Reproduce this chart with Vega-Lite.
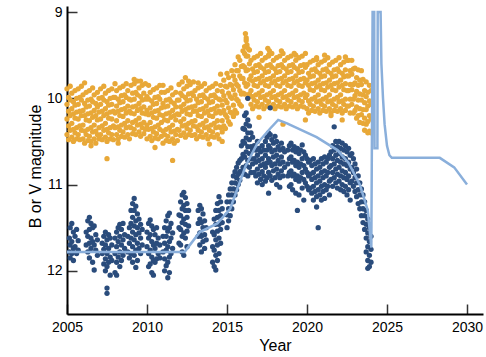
{
"$schema":"https://vega.github.io/schema/vega-lite/v6.json",
"autosize":"none",
"width":416,"height":308,
"padding":{"left":67,"top":6,"right":3,"bottom":43},
"background":"white",
"config":{"view":{"stroke":null},"font":"Liberation Sans"},
"datasets":{
"V":[
{"t":2005.0,"m":9.89},{"t":2005.0,"m":10.07},{"t":2005.0,"m":10.24},{"t":2005.0,"m":10.42},
{"t":2005.1,"m":9.99},{"t":2005.1,"m":10.15},{"t":2005.1,"m":10.32},{"t":2005.1,"m":10.48},
{"t":2005.2,"m":9.86},{"t":2005.2,"m":10.02},{"t":2005.2,"m":10.2},{"t":2005.2,"m":10.37},
{"t":2005.3,"m":9.94},{"t":2005.3,"m":10.12},{"t":2005.3,"m":10.29},{"t":2005.3,"m":10.45},
{"t":2005.4,"m":10.04},{"t":2005.4,"m":10.18},{"t":2005.4,"m":10.36},{"t":2005.4,"m":10.5},
{"t":2005.5,"m":9.91},{"t":2005.5,"m":10.08},{"t":2005.5,"m":10.23},{"t":2005.5,"m":10.4},
{"t":2005.6,"m":10.0},{"t":2005.6,"m":10.16},{"t":2005.6,"m":10.34},{"t":2005.6,"m":10.47},
{"t":2005.7,"m":9.89},{"t":2005.7,"m":10.07},{"t":2005.7,"m":10.24},{"t":2005.7,"m":10.42},
{"t":2005.8,"m":9.99},{"t":2005.8,"m":10.15},{"t":2005.8,"m":10.32},{"t":2005.8,"m":10.48},
{"t":2005.9,"m":9.86},{"t":2005.9,"m":10.02},{"t":2005.9,"m":10.2},{"t":2005.9,"m":10.37},
{"t":2006.0,"m":9.96},{"t":2006.0,"m":10.14},{"t":2006.0,"m":10.31},{"t":2006.0,"m":10.47},
{"t":2006.1,"m":10.06},{"t":2006.1,"m":10.2},{"t":2006.1,"m":10.38},{"t":2006.1,"m":10.52},
{"t":2006.2,"m":9.93},{"t":2006.2,"m":10.1},{"t":2006.2,"m":10.25},{"t":2006.2,"m":10.42},
{"t":2006.3,"m":10.02},{"t":2006.3,"m":10.18},{"t":2006.3,"m":10.36},{"t":2006.3,"m":10.49},
{"t":2006.4,"m":9.91},{"t":2006.4,"m":10.09},{"t":2006.4,"m":10.26},{"t":2006.4,"m":10.44},
{"t":2006.5,"m":10.01},{"t":2006.5,"m":10.17},{"t":2006.5,"m":10.34},{"t":2006.5,"m":10.5},
{"t":2006.6,"m":9.88},{"t":2006.6,"m":10.04},{"t":2006.6,"m":10.22},{"t":2006.6,"m":10.39},
{"t":2006.7,"m":9.96},{"t":2006.7,"m":10.14},{"t":2006.7,"m":10.31},{"t":2006.7,"m":10.47},
{"t":2006.8,"m":10.06},{"t":2006.8,"m":10.2},{"t":2006.8,"m":10.38},{"t":2006.8,"m":10.52},
{"t":2006.9,"m":9.93},{"t":2006.9,"m":10.1},{"t":2006.9,"m":10.25},{"t":2006.9,"m":10.42},
{"t":2007.0,"m":10.0},{"t":2007.0,"m":10.16},{"t":2007.0,"m":10.34},{"t":2007.0,"m":10.47},
{"t":2007.1,"m":9.89},{"t":2007.1,"m":10.07},{"t":2007.1,"m":10.24},{"t":2007.1,"m":10.42},
{"t":2007.2,"m":9.99},{"t":2007.2,"m":10.15},{"t":2007.2,"m":10.32},{"t":2007.2,"m":10.48},
{"t":2007.3,"m":9.86},{"t":2007.3,"m":10.02},{"t":2007.3,"m":10.2},{"t":2007.3,"m":10.37},
{"t":2007.4,"m":9.94},{"t":2007.4,"m":10.12},{"t":2007.4,"m":10.29},{"t":2007.4,"m":10.45},
{"t":2007.5,"m":10.04},{"t":2007.5,"m":10.18},{"t":2007.5,"m":10.36},{"t":2007.5,"m":10.5},
{"t":2007.6,"m":9.91},{"t":2007.6,"m":10.08},{"t":2007.6,"m":10.23},{"t":2007.6,"m":10.4},
{"t":2007.7,"m":10.0},{"t":2007.7,"m":10.16},{"t":2007.7,"m":10.34},{"t":2007.7,"m":10.47},
{"t":2007.8,"m":9.89},{"t":2007.8,"m":10.07},{"t":2007.8,"m":10.24},{"t":2007.8,"m":10.42},
{"t":2007.9,"m":9.99},{"t":2007.9,"m":10.15},{"t":2007.9,"m":10.32},{"t":2007.9,"m":10.48},
{"t":2008.0,"m":9.83},{"t":2008.0,"m":9.99},{"t":2008.0,"m":10.17},{"t":2008.0,"m":10.34},
{"t":2008.1,"m":9.91},{"t":2008.1,"m":10.09},{"t":2008.1,"m":10.26},{"t":2008.1,"m":10.42},
{"t":2008.2,"m":10.01},{"t":2008.2,"m":10.15},{"t":2008.2,"m":10.33},{"t":2008.2,"m":10.47},
{"t":2008.3,"m":9.88},{"t":2008.3,"m":10.05},{"t":2008.3,"m":10.2},{"t":2008.3,"m":10.37},
{"t":2008.4,"m":9.97},{"t":2008.4,"m":10.13},{"t":2008.4,"m":10.31},{"t":2008.4,"m":10.44},
{"t":2008.5,"m":9.86},{"t":2008.5,"m":10.04},{"t":2008.5,"m":10.21},{"t":2008.5,"m":10.39},
{"t":2008.6,"m":9.96},{"t":2008.6,"m":10.12},{"t":2008.6,"m":10.29},{"t":2008.6,"m":10.45},
{"t":2008.7,"m":9.83},{"t":2008.7,"m":9.99},{"t":2008.7,"m":10.17},{"t":2008.7,"m":10.34},
{"t":2008.8,"m":9.91},{"t":2008.8,"m":10.09},{"t":2008.8,"m":10.26},{"t":2008.8,"m":10.42},
{"t":2008.9,"m":10.01},{"t":2008.9,"m":10.15},{"t":2008.9,"m":10.33},{"t":2008.9,"m":10.47},
{"t":2009.0,"m":9.85},{"t":2009.0,"m":10.02},{"t":2009.0,"m":10.17},{"t":2009.0,"m":10.34},
{"t":2009.1,"m":9.94},{"t":2009.1,"m":10.1},{"t":2009.1,"m":10.28},{"t":2009.1,"m":10.41},
{"t":2009.2,"m":9.83},{"t":2009.2,"m":10.01},{"t":2009.2,"m":10.18},{"t":2009.2,"m":10.36},
{"t":2009.3,"m":9.93},{"t":2009.3,"m":10.09},{"t":2009.3,"m":10.26},{"t":2009.3,"m":10.42},
{"t":2009.4,"m":9.8},{"t":2009.4,"m":9.96},{"t":2009.4,"m":10.14},{"t":2009.4,"m":10.31},
{"t":2009.5,"m":9.88},{"t":2009.5,"m":10.06},{"t":2009.5,"m":10.23},{"t":2009.5,"m":10.39},
{"t":2009.6,"m":9.98},{"t":2009.6,"m":10.12},{"t":2009.6,"m":10.3},{"t":2009.6,"m":10.44},
{"t":2009.7,"m":9.85},{"t":2009.7,"m":10.02},{"t":2009.7,"m":10.17},{"t":2009.7,"m":10.34},
{"t":2009.8,"m":9.94},{"t":2009.8,"m":10.1},{"t":2009.8,"m":10.28},{"t":2009.8,"m":10.41},
{"t":2009.9,"m":9.83},{"t":2009.9,"m":10.01},{"t":2009.9,"m":10.18},{"t":2009.9,"m":10.36},
{"t":2010.0,"m":9.98},{"t":2010.0,"m":10.14},{"t":2010.0,"m":10.31},{"t":2010.0,"m":10.47},
{"t":2010.1,"m":9.85},{"t":2010.1,"m":10.01},{"t":2010.1,"m":10.19},{"t":2010.1,"m":10.36},
{"t":2010.2,"m":9.93},{"t":2010.2,"m":10.11},{"t":2010.2,"m":10.28},{"t":2010.2,"m":10.44},
{"t":2010.3,"m":10.03},{"t":2010.3,"m":10.17},{"t":2010.3,"m":10.35},{"t":2010.3,"m":10.49},
{"t":2010.4,"m":9.9},{"t":2010.4,"m":10.07},{"t":2010.4,"m":10.22},{"t":2010.4,"m":10.39},
{"t":2010.5,"m":9.99},{"t":2010.5,"m":10.15},{"t":2010.5,"m":10.33},{"t":2010.5,"m":10.46},
{"t":2010.6,"m":9.88},{"t":2010.6,"m":10.06},{"t":2010.6,"m":10.23},{"t":2010.6,"m":10.41},
{"t":2010.7,"m":9.98},{"t":2010.7,"m":10.14},{"t":2010.7,"m":10.31},{"t":2010.7,"m":10.47},
{"t":2010.8,"m":9.85},{"t":2010.8,"m":10.01},{"t":2010.8,"m":10.19},{"t":2010.8,"m":10.36},
{"t":2010.9,"m":9.93},{"t":2010.9,"m":10.11},{"t":2010.9,"m":10.28},{"t":2010.9,"m":10.44},
{"t":2011.0,"m":10.06},{"t":2011.0,"m":10.2},{"t":2011.0,"m":10.38},{"t":2011.0,"m":10.52},
{"t":2011.1,"m":9.93},{"t":2011.1,"m":10.1},{"t":2011.1,"m":10.25},{"t":2011.1,"m":10.42},
{"t":2011.2,"m":10.02},{"t":2011.2,"m":10.18},{"t":2011.2,"m":10.36},{"t":2011.2,"m":10.49},
{"t":2011.3,"m":9.91},{"t":2011.3,"m":10.09},{"t":2011.3,"m":10.26},{"t":2011.3,"m":10.44},
{"t":2011.4,"m":10.01},{"t":2011.4,"m":10.17},{"t":2011.4,"m":10.34},{"t":2011.4,"m":10.5},
{"t":2011.5,"m":9.88},{"t":2011.5,"m":10.04},{"t":2011.5,"m":10.22},{"t":2011.5,"m":10.39},
{"t":2011.6,"m":9.96},{"t":2011.6,"m":10.14},{"t":2011.6,"m":10.31},{"t":2011.6,"m":10.47},
{"t":2011.7,"m":10.06},{"t":2011.7,"m":10.2},{"t":2011.7,"m":10.38},{"t":2011.7,"m":10.52},
{"t":2011.8,"m":9.93},{"t":2011.8,"m":10.1},{"t":2011.8,"m":10.25},{"t":2011.8,"m":10.42},
{"t":2011.9,"m":10.02},{"t":2011.9,"m":10.18},{"t":2011.9,"m":10.36},{"t":2011.9,"m":10.49},
{"t":2012.0,"m":9.84},{"t":2012.0,"m":10.02},{"t":2012.0,"m":10.19},{"t":2012.0,"m":10.37},
{"t":2012.1,"m":9.94},{"t":2012.1,"m":10.1},{"t":2012.1,"m":10.27},{"t":2012.1,"m":10.43},
{"t":2012.2,"m":9.81},{"t":2012.2,"m":9.97},{"t":2012.2,"m":10.15},{"t":2012.2,"m":10.32},
{"t":2012.3,"m":9.89},{"t":2012.3,"m":10.07},{"t":2012.3,"m":10.24},{"t":2012.3,"m":10.4},
{"t":2012.4,"m":9.99},{"t":2012.4,"m":10.13},{"t":2012.4,"m":10.31},{"t":2012.4,"m":10.45},
{"t":2012.5,"m":9.86},{"t":2012.5,"m":10.03},{"t":2012.5,"m":10.18},{"t":2012.5,"m":10.35},
{"t":2012.6,"m":9.95},{"t":2012.6,"m":10.11},{"t":2012.6,"m":10.29},{"t":2012.6,"m":10.42},
{"t":2012.7,"m":9.84},{"t":2012.7,"m":10.02},{"t":2012.7,"m":10.19},{"t":2012.7,"m":10.37},
{"t":2012.8,"m":9.94},{"t":2012.8,"m":10.1},{"t":2012.8,"m":10.27},{"t":2012.8,"m":10.43},
{"t":2012.9,"m":9.81},{"t":2012.9,"m":9.97},{"t":2012.9,"m":10.15},{"t":2012.9,"m":10.32},
{"t":2013.0,"m":9.91},{"t":2013.0,"m":10.09},{"t":2013.0,"m":10.26},{"t":2013.0,"m":10.42},
{"t":2013.1,"m":10.01},{"t":2013.1,"m":10.15},{"t":2013.1,"m":10.33},{"t":2013.1,"m":10.47},
{"t":2013.2,"m":9.88},{"t":2013.2,"m":10.05},{"t":2013.2,"m":10.2},{"t":2013.2,"m":10.37},
{"t":2013.3,"m":9.97},{"t":2013.3,"m":10.13},{"t":2013.3,"m":10.31},{"t":2013.3,"m":10.44},
{"t":2013.4,"m":9.86},{"t":2013.4,"m":10.04},{"t":2013.4,"m":10.21},{"t":2013.4,"m":10.39},
{"t":2013.5,"m":9.96},{"t":2013.5,"m":10.12},{"t":2013.5,"m":10.29},{"t":2013.5,"m":10.45},
{"t":2013.6,"m":9.83},{"t":2013.6,"m":9.99},{"t":2013.6,"m":10.17},{"t":2013.6,"m":10.34},
{"t":2013.7,"m":9.91},{"t":2013.7,"m":10.09},{"t":2013.7,"m":10.26},{"t":2013.7,"m":10.42},
{"t":2013.8,"m":10.01},{"t":2013.8,"m":10.15},{"t":2013.8,"m":10.33},{"t":2013.8,"m":10.47},
{"t":2013.9,"m":9.88},{"t":2013.9,"m":10.05},{"t":2013.9,"m":10.2},{"t":2013.9,"m":10.37},
{"t":2014.0,"m":9.97},{"t":2014.0,"m":10.13},{"t":2014.0,"m":10.31},{"t":2014.0,"m":10.44},
{"t":2014.1,"m":9.86},{"t":2014.1,"m":10.04},{"t":2014.1,"m":10.21},{"t":2014.1,"m":10.39},
{"t":2014.2,"m":9.96},{"t":2014.2,"m":10.12},{"t":2014.2,"m":10.29},{"t":2014.2,"m":10.45},
{"t":2014.3,"m":9.83},{"t":2014.3,"m":9.99},{"t":2014.3,"m":10.17},{"t":2014.3,"m":10.34},
{"t":2014.4,"m":9.91},{"t":2014.4,"m":10.09},{"t":2014.4,"m":10.26},{"t":2014.4,"m":10.42},
{"t":2014.5,"m":10.01},{"t":2014.5,"m":10.15},{"t":2014.5,"m":10.33},{"t":2014.5,"m":10.47},
{"t":2014.6,"m":9.85},{"t":2014.6,"m":10.02},{"t":2014.6,"m":10.17},{"t":2014.6,"m":10.34},
{"t":2014.7,"m":9.92},{"t":2014.7,"m":10.08},{"t":2014.7,"m":10.26},{"t":2014.7,"m":10.39},
{"t":2014.8,"m":9.79},{"t":2014.8,"m":9.97},{"t":2014.8,"m":10.14},{"t":2014.8,"m":10.32},
{"t":2014.9,"m":9.86},{"t":2014.9,"m":10.02},{"t":2014.9,"m":10.19},{"t":2014.9,"m":10.35},
{"t":2015.0,"m":9.71},{"t":2015.0,"m":9.87},{"t":2015.0,"m":10.05},{"t":2015.0,"m":10.22},
{"t":2015.1,"m":9.76},{"t":2015.1,"m":9.94},{"t":2015.1,"m":10.11},{"t":2015.1,"m":10.27},
{"t":2015.2,"m":9.84},{"t":2015.2,"m":9.98},{"t":2015.2,"m":10.16},{"t":2015.2,"m":10.3},
{"t":2015.3,"m":9.68},{"t":2015.3,"m":9.85},{"t":2015.3,"m":10.0},{"t":2015.3,"m":10.17},
{"t":2015.4,"m":9.74},{"t":2015.4,"m":9.9},{"t":2015.4,"m":10.08},{"t":2015.4,"m":10.21},
{"t":2015.5,"m":9.61},{"t":2015.5,"m":9.79},{"t":2015.5,"m":9.96},{"t":2015.5,"m":10.14},
{"t":2015.6,"m":9.68},{"t":2015.6,"m":9.84},{"t":2015.6,"m":10.01},{"t":2015.6,"m":10.17},
{"t":2015.7,"m":9.52},{"t":2015.7,"m":9.68},{"t":2015.7,"m":9.86},{"t":2015.7,"m":10.03},
{"t":2015.8,"m":9.56},{"t":2015.8,"m":9.74},{"t":2015.8,"m":9.91},{"t":2015.8,"m":10.07},
{"t":2015.9,"m":9.63},{"t":2015.9,"m":9.77},{"t":2015.9,"m":9.95},{"t":2015.9,"m":10.09},
{"t":2016.0,"m":9.45},{"t":2016.0,"m":9.62},{"t":2016.0,"m":9.77},{"t":2016.0,"m":9.94},
{"t":2016.1,"m":9.48},{"t":2016.1,"m":9.64},{"t":2016.1,"m":9.82},{"t":2016.1,"m":9.95},
{"t":2016.2,"m":9.33},{"t":2016.2,"m":9.51},{"t":2016.2,"m":9.68},{"t":2016.2,"m":9.86},
{"t":2016.3,"m":9.51},{"t":2016.3,"m":9.67},{"t":2016.3,"m":9.84},{"t":2016.3,"m":10.0},
{"t":2016.4,"m":9.44},{"t":2016.4,"m":9.6},{"t":2016.4,"m":9.78},{"t":2016.4,"m":9.95},
{"t":2016.15,"m":9.25},{"t":2016.2,"m":9.3},{"t":2016.25,"m":9.38},{"t":2016.1,"m":9.4},{"t":2016.3,"m":9.42},
{"t":2016.5,"m":9.56},{"t":2016.5,"m":9.74},{"t":2016.5,"m":9.91},{"t":2016.5,"m":10.07},
{"t":2016.6,"m":9.66},{"t":2016.6,"m":9.8},{"t":2016.6,"m":9.98},{"t":2016.6,"m":10.12},
{"t":2016.7,"m":9.53},{"t":2016.7,"m":9.7},{"t":2016.7,"m":9.85},{"t":2016.7,"m":10.02},
{"t":2016.8,"m":9.62},{"t":2016.8,"m":9.78},{"t":2016.8,"m":9.96},{"t":2016.8,"m":10.09},
{"t":2016.9,"m":9.51},{"t":2016.9,"m":9.69},{"t":2016.9,"m":9.86},{"t":2016.9,"m":10.04},
{"t":2017.0,"m":9.61},{"t":2017.0,"m":9.77},{"t":2017.0,"m":9.94},{"t":2017.0,"m":10.1},
{"t":2017.1,"m":9.48},{"t":2017.1,"m":9.64},{"t":2017.1,"m":9.82},{"t":2017.1,"m":9.99},
{"t":2017.2,"m":9.56},{"t":2017.2,"m":9.74},{"t":2017.2,"m":9.91},{"t":2017.2,"m":10.07},
{"t":2017.3,"m":9.66},{"t":2017.3,"m":9.8},{"t":2017.3,"m":9.98},{"t":2017.3,"m":10.12},
{"t":2017.4,"m":9.53},{"t":2017.4,"m":9.7},{"t":2017.4,"m":9.85},{"t":2017.4,"m":10.02},
{"t":2017.5,"m":9.62},{"t":2017.5,"m":9.78},{"t":2017.5,"m":9.96},{"t":2017.5,"m":10.09},
{"t":2017.6,"m":9.51},{"t":2017.6,"m":9.69},{"t":2017.6,"m":9.86},{"t":2017.6,"m":10.04},
{"t":2017.7,"m":9.61},{"t":2017.7,"m":9.77},{"t":2017.7,"m":9.94},{"t":2017.7,"m":10.1},
{"t":2017.8,"m":9.48},{"t":2017.8,"m":9.64},{"t":2017.8,"m":9.82},{"t":2017.8,"m":9.99},
{"t":2017.9,"m":9.56},{"t":2017.9,"m":9.74},{"t":2017.9,"m":9.91},{"t":2017.9,"m":10.07},
{"t":2017.55,"m":9.42},{"t":2017.65,"m":9.45},{"t":2017.6,"m":9.5},
{"t":2018.0,"m":9.66},{"t":2018.0,"m":9.8},{"t":2018.0,"m":9.98},{"t":2018.0,"m":10.12},
{"t":2018.1,"m":9.53},{"t":2018.1,"m":9.7},{"t":2018.1,"m":9.85},{"t":2018.1,"m":10.02},
{"t":2018.2,"m":9.62},{"t":2018.2,"m":9.78},{"t":2018.2,"m":9.96},{"t":2018.2,"m":10.09},
{"t":2018.3,"m":9.51},{"t":2018.3,"m":9.69},{"t":2018.3,"m":9.86},{"t":2018.3,"m":10.04},
{"t":2018.4,"m":9.61},{"t":2018.4,"m":9.77},{"t":2018.4,"m":9.94},{"t":2018.4,"m":10.1},
{"t":2018.5,"m":9.48},{"t":2018.5,"m":9.64},{"t":2018.5,"m":9.82},{"t":2018.5,"m":9.99},
{"t":2018.6,"m":9.56},{"t":2018.6,"m":9.74},{"t":2018.6,"m":9.91},{"t":2018.6,"m":10.07},
{"t":2018.7,"m":9.66},{"t":2018.7,"m":9.8},{"t":2018.7,"m":9.98},{"t":2018.7,"m":10.12},
{"t":2018.8,"m":9.53},{"t":2018.8,"m":9.7},{"t":2018.8,"m":9.85},{"t":2018.8,"m":10.02},
{"t":2018.9,"m":9.62},{"t":2018.9,"m":9.78},{"t":2018.9,"m":9.96},{"t":2018.9,"m":10.09},
{"t":2019.0,"m":9.51},{"t":2019.0,"m":9.69},{"t":2019.0,"m":9.86},{"t":2019.0,"m":10.04},
{"t":2019.1,"m":9.61},{"t":2019.1,"m":9.77},{"t":2019.1,"m":9.94},{"t":2019.1,"m":10.1},
{"t":2019.2,"m":9.48},{"t":2019.2,"m":9.64},{"t":2019.2,"m":9.82},{"t":2019.2,"m":9.99},
{"t":2019.3,"m":9.56},{"t":2019.3,"m":9.74},{"t":2019.3,"m":9.91},{"t":2019.3,"m":10.07},
{"t":2019.4,"m":9.66},{"t":2019.4,"m":9.8},{"t":2019.4,"m":9.98},{"t":2019.4,"m":10.12},
{"t":2019.5,"m":9.53},{"t":2019.5,"m":9.7},{"t":2019.5,"m":9.85},{"t":2019.5,"m":10.02},
{"t":2019.6,"m":9.62},{"t":2019.6,"m":9.78},{"t":2019.6,"m":9.96},{"t":2019.6,"m":10.09},
{"t":2019.7,"m":9.51},{"t":2019.7,"m":9.69},{"t":2019.7,"m":9.86},{"t":2019.7,"m":10.04},
{"t":2019.8,"m":9.61},{"t":2019.8,"m":9.77},{"t":2019.8,"m":9.94},{"t":2019.8,"m":10.1},
{"t":2019.9,"m":9.48},{"t":2019.9,"m":9.64},{"t":2019.9,"m":9.82},{"t":2019.9,"m":9.99},
{"t":2020.0,"m":9.61},{"t":2020.0,"m":9.79},{"t":2020.0,"m":9.96},{"t":2020.0,"m":10.12},
{"t":2020.1,"m":9.71},{"t":2020.1,"m":9.85},{"t":2020.1,"m":10.03},{"t":2020.1,"m":10.17},
{"t":2020.2,"m":9.58},{"t":2020.2,"m":9.75},{"t":2020.2,"m":9.9},{"t":2020.2,"m":10.07},
{"t":2020.3,"m":9.67},{"t":2020.3,"m":9.83},{"t":2020.3,"m":10.01},{"t":2020.3,"m":10.14},
{"t":2020.4,"m":9.56},{"t":2020.4,"m":9.74},{"t":2020.4,"m":9.91},{"t":2020.4,"m":10.09},
{"t":2020.5,"m":9.66},{"t":2020.5,"m":9.82},{"t":2020.5,"m":9.99},{"t":2020.5,"m":10.15},
{"t":2020.6,"m":9.53},{"t":2020.6,"m":9.69},{"t":2020.6,"m":9.87},{"t":2020.6,"m":10.04},
{"t":2020.7,"m":9.61},{"t":2020.7,"m":9.79},{"t":2020.7,"m":9.96},{"t":2020.7,"m":10.12},
{"t":2020.8,"m":9.71},{"t":2020.8,"m":9.85},{"t":2020.8,"m":10.03},{"t":2020.8,"m":10.17},
{"t":2020.9,"m":9.58},{"t":2020.9,"m":9.75},{"t":2020.9,"m":9.9},{"t":2020.9,"m":10.07},
{"t":2021.0,"m":9.67},{"t":2021.0,"m":9.83},{"t":2021.0,"m":10.01},{"t":2021.0,"m":10.14},
{"t":2021.1,"m":9.56},{"t":2021.1,"m":9.74},{"t":2021.1,"m":9.91},{"t":2021.1,"m":10.09},
{"t":2021.2,"m":9.66},{"t":2021.2,"m":9.82},{"t":2021.2,"m":9.99},{"t":2021.2,"m":10.15},
{"t":2021.3,"m":9.53},{"t":2021.3,"m":9.69},{"t":2021.3,"m":9.87},{"t":2021.3,"m":10.04},
{"t":2021.4,"m":9.61},{"t":2021.4,"m":9.79},{"t":2021.4,"m":9.96},{"t":2021.4,"m":10.12},
{"t":2021.5,"m":9.71},{"t":2021.5,"m":9.85},{"t":2021.5,"m":10.03},{"t":2021.5,"m":10.17},
{"t":2021.6,"m":9.58},{"t":2021.6,"m":9.75},{"t":2021.6,"m":9.9},{"t":2021.6,"m":10.07},
{"t":2021.7,"m":9.67},{"t":2021.7,"m":9.83},{"t":2021.7,"m":10.01},{"t":2021.7,"m":10.14},
{"t":2021.8,"m":9.56},{"t":2021.8,"m":9.74},{"t":2021.8,"m":9.91},{"t":2021.8,"m":10.09},
{"t":2021.9,"m":9.66},{"t":2021.9,"m":9.82},{"t":2021.9,"m":9.99},{"t":2021.9,"m":10.15},
{"t":2022.0,"m":9.53},{"t":2022.0,"m":9.69},{"t":2022.0,"m":9.87},{"t":2022.0,"m":10.04},
{"t":2022.1,"m":9.61},{"t":2022.1,"m":9.79},{"t":2022.1,"m":9.96},{"t":2022.1,"m":10.12},
{"t":2022.2,"m":9.71},{"t":2022.2,"m":9.85},{"t":2022.2,"m":10.03},{"t":2022.2,"m":10.17},
{"t":2022.3,"m":9.58},{"t":2022.3,"m":9.75},{"t":2022.3,"m":9.9},{"t":2022.3,"m":10.07},
{"t":2022.4,"m":9.67},{"t":2022.4,"m":9.83},{"t":2022.4,"m":10.01},{"t":2022.4,"m":10.14},
{"t":2022.5,"m":9.56},{"t":2022.5,"m":9.74},{"t":2022.5,"m":9.91},{"t":2022.5,"m":10.09},
{"t":2022.6,"m":9.56},{"t":2022.6,"m":9.74},{"t":2022.6,"m":9.91},{"t":2022.6,"m":10.09},
{"t":2022.7,"m":9.68},{"t":2022.7,"m":9.84},{"t":2022.7,"m":10.01},{"t":2022.7,"m":10.17},
{"t":2022.8,"m":9.56},{"t":2022.8,"m":9.72},{"t":2022.8,"m":9.9},{"t":2022.8,"m":10.07},
{"t":2022.9,"m":9.66},{"t":2022.9,"m":9.84},{"t":2022.9,"m":10.01},{"t":2022.9,"m":10.17},
{"t":2023.0,"m":9.65},{"t":2023.0,"m":9.82},{"t":2023.0,"m":9.97},{"t":2023.0,"m":10.14},
{"t":2023.1,"m":9.76},{"t":2023.1,"m":9.92},{"t":2023.1,"m":10.1},{"t":2023.1,"m":10.23},
{"t":2023.2,"m":9.67},{"t":2023.2,"m":9.85},{"t":2023.2,"m":10.02},{"t":2023.2,"m":10.2},
{"t":2023.3,"m":9.79},{"t":2023.3,"m":9.95},{"t":2023.3,"m":10.12},{"t":2023.3,"m":10.28},
{"t":2023.4,"m":9.68},{"t":2023.4,"m":9.84},{"t":2023.4,"m":10.02},{"t":2023.4,"m":10.19},
{"t":2023.5,"m":9.78},{"t":2023.5,"m":9.96},{"t":2023.5,"m":10.13},{"t":2023.5,"m":10.29},
{"t":2023.6,"m":9.91},{"t":2023.6,"m":10.05},{"t":2023.6,"m":10.23},{"t":2023.6,"m":10.37},
{"t":2023.7,"m":9.81},{"t":2023.7,"m":9.98},{"t":2023.7,"m":10.13},{"t":2023.7,"m":10.3},
{"t":2023.8,"m":9.93},{"t":2023.8,"m":10.09},{"t":2023.8,"m":10.27},{"t":2023.8,"m":10.4},
{"t":2023.9,"m":9.85},{"t":2023.9,"m":10.03},{"t":2023.9,"m":10.2},{"t":2023.9,"m":10.38},
{"t":2024.0,"m":9.91},{"t":2024.0,"m":10.07},{"t":2024.0,"m":10.24},{"t":2024.0,"m":10.4},
{"t":2007.5,"m":10.7},{"t":2010.5,"m":10.57},{"t":2011.6,"m":10.72},
{"t":2006.1,"m":9.82},{"t":2009.2,"m":9.78},{"t":2009.6,"m":9.8},{"t":2012.4,"m":9.76},{"t":2012.6,"m":9.8},
{"t":2014.6,"m":9.72},{"t":2013.2,"m":9.82},{"t":2011.0,"m":9.85},
{"t":2006.5,"m":10.55},{"t":2008.2,"m":10.52},{"t":2013.9,"m":10.53},{"t":2014.7,"m":10.5},
{"t":2018.4,"m":9.45},{"t":2019.3,"m":9.5},{"t":2021.1,"m":9.5},{"t":2022.4,"m":9.52},{"t":2020.6,"m":9.55},
{"t":2017.0,"m":10.22},{"t":2018.5,"m":10.3},{"t":2019.9,"m":10.25},{"t":2021.5,"m":10.2},{"t":2022.2,"m":10.25}
],
"B":[
{"t":2005.15,"m":11.62},{"t":2005.15,"m":11.78},
{"t":2005.2,"m":11.5},{"t":2005.2,"m":11.7},{"t":2005.2,"m":11.85},
{"t":2005.3,"m":11.45},{"t":2005.3,"m":11.66},{"t":2005.3,"m":11.8},
{"t":2005.4,"m":11.55},{"t":2005.4,"m":11.74},{"t":2005.4,"m":11.88},
{"t":2005.5,"m":11.6},{"t":2005.5,"m":11.72},
{"t":2005.6,"m":11.52},{"t":2005.6,"m":11.8},
{"t":2005.7,"m":11.65},{"t":2005.7,"m":11.76},
{"t":2006.2,"m":11.55},{"t":2006.2,"m":11.7},
{"t":2006.3,"m":11.42},{"t":2006.3,"m":11.6},{"t":2006.3,"m":11.78},
{"t":2006.4,"m":11.38},{"t":2006.4,"m":11.52},{"t":2006.4,"m":11.68},{"t":2006.4,"m":11.85},
{"t":2006.5,"m":11.45},{"t":2006.5,"m":11.62},{"t":2006.5,"m":11.74},
{"t":2006.6,"m":11.5},{"t":2006.6,"m":11.66},{"t":2006.6,"m":11.9},
{"t":2006.7,"m":11.48},{"t":2006.7,"m":11.7},{"t":2006.7,"m":11.99},
{"t":2006.8,"m":11.58},{"t":2006.8,"m":11.76},
{"t":2006.9,"m":11.64},{"t":2006.9,"m":11.82},
{"t":2007.2,"m":11.68},{"t":2007.2,"m":11.8},
{"t":2007.3,"m":11.6},{"t":2007.3,"m":11.75},{"t":2007.3,"m":11.92},
{"t":2007.4,"m":11.55},{"t":2007.4,"m":11.7},{"t":2007.4,"m":11.86},{"t":2007.4,"m":12.0},
{"t":2007.5,"m":11.64},{"t":2007.5,"m":11.8},{"t":2007.5,"m":11.95},{"t":2007.5,"m":12.2},{"t":2007.5,"m":12.26},
{"t":2007.6,"m":11.58},{"t":2007.6,"m":11.74},{"t":2007.6,"m":11.9},
{"t":2007.7,"m":11.62},{"t":2007.7,"m":11.84},{"t":2007.7,"m":12.05},
{"t":2007.8,"m":11.7},{"t":2007.8,"m":11.88},
{"t":2008.0,"m":11.62},{"t":2008.0,"m":11.8},{"t":2008.0,"m":12.02},
{"t":2008.1,"m":11.55},{"t":2008.1,"m":11.72},{"t":2008.1,"m":11.9},{"t":2008.1,"m":12.05},
{"t":2008.2,"m":11.5},{"t":2008.2,"m":11.66},{"t":2008.2,"m":11.84},
{"t":2008.3,"m":11.46},{"t":2008.3,"m":11.6},{"t":2008.3,"m":11.78},{"t":2008.3,"m":11.95},
{"t":2008.4,"m":11.52},{"t":2008.4,"m":11.7},{"t":2008.4,"m":11.88},
{"t":2008.5,"m":11.45},{"t":2008.5,"m":11.64},{"t":2008.5,"m":11.82},
{"t":2008.6,"m":11.58},{"t":2008.6,"m":11.74},
{"t":2008.8,"m":11.6},{"t":2008.8,"m":11.78},
{"t":2008.9,"m":11.5},{"t":2008.9,"m":11.68},{"t":2008.9,"m":11.85},
{"t":2009.0,"m":11.3},{"t":2009.0,"m":11.45},{"t":2009.0,"m":11.62},{"t":2009.0,"m":11.8},
{"t":2009.1,"m":11.22},{"t":2009.1,"m":11.38},{"t":2009.1,"m":11.55},{"t":2009.1,"m":11.72},{"t":2009.1,"m":11.9},
{"t":2009.2,"m":11.16},{"t":2009.2,"m":11.3},{"t":2009.2,"m":11.48},{"t":2009.2,"m":11.64},{"t":2009.2,"m":11.82},
{"t":2009.3,"m":11.25},{"t":2009.3,"m":11.42},{"t":2009.3,"m":11.58},{"t":2009.3,"m":11.76},{"t":2009.3,"m":11.96},
{"t":2009.4,"m":11.34},{"t":2009.4,"m":11.5},{"t":2009.4,"m":11.68},{"t":2009.4,"m":11.88},
{"t":2009.5,"m":11.4},{"t":2009.5,"m":11.56},{"t":2009.5,"m":11.74},
{"t":2009.6,"m":11.46},{"t":2009.6,"m":11.62},{"t":2009.6,"m":11.8},
{"t":2009.7,"m":11.52},{"t":2009.7,"m":11.7},
{"t":2010.0,"m":11.55},{"t":2010.0,"m":11.72},
{"t":2010.1,"m":11.45},{"t":2010.1,"m":11.62},{"t":2010.1,"m":11.8},{"t":2010.1,"m":11.95},
{"t":2010.2,"m":11.41},{"t":2010.2,"m":11.58},{"t":2010.2,"m":11.76},{"t":2010.2,"m":11.92},
{"t":2010.3,"m":11.48},{"t":2010.3,"m":11.66},{"t":2010.3,"m":11.84},{"t":2010.3,"m":12.02},
{"t":2010.4,"m":11.52},{"t":2010.4,"m":11.7},{"t":2010.4,"m":11.88},{"t":2010.4,"m":12.05},
{"t":2010.5,"m":11.58},{"t":2010.5,"m":11.74},{"t":2010.5,"m":11.9},
{"t":2010.6,"m":11.5},{"t":2010.6,"m":11.68},{"t":2010.6,"m":11.86},
{"t":2010.7,"m":11.62},{"t":2010.7,"m":11.8},
{"t":2010.8,"m":11.7},{"t":2010.8,"m":11.85},
{"t":2011.0,"m":11.6},{"t":2011.0,"m":11.78},
{"t":2011.1,"m":11.5},{"t":2011.1,"m":11.68},{"t":2011.1,"m":11.86},{"t":2011.1,"m":12.0},
{"t":2011.2,"m":11.42},{"t":2011.2,"m":11.6},{"t":2011.2,"m":11.76},{"t":2011.2,"m":11.94},
{"t":2011.3,"m":11.36},{"t":2011.3,"m":11.54},{"t":2011.3,"m":11.72},{"t":2011.3,"m":11.9},{"t":2011.3,"m":12.08},
{"t":2011.4,"m":11.33},{"t":2011.4,"m":11.5},{"t":2011.4,"m":11.66},{"t":2011.4,"m":11.84},{"t":2011.4,"m":12.02},
{"t":2011.5,"m":11.45},{"t":2011.5,"m":11.62},{"t":2011.5,"m":11.8},
{"t":2011.6,"m":11.56},{"t":2011.6,"m":11.74},
{"t":2012.0,"m":11.35},{"t":2012.0,"m":11.5},{"t":2012.0,"m":11.68},
{"t":2012.1,"m":11.2},{"t":2012.1,"m":11.36},{"t":2012.1,"m":11.52},{"t":2012.1,"m":11.7},
{"t":2012.2,"m":11.12},{"t":2012.2,"m":11.28},{"t":2012.2,"m":11.44},{"t":2012.2,"m":11.6},{"t":2012.2,"m":11.78},
{"t":2012.3,"m":11.09},{"t":2012.3,"m":11.24},{"t":2012.3,"m":11.4},{"t":2012.3,"m":11.56},{"t":2012.3,"m":11.82},
{"t":2012.4,"m":11.15},{"t":2012.4,"m":11.3},{"t":2012.4,"m":11.46},{"t":2012.4,"m":11.62},
{"t":2012.5,"m":11.22},{"t":2012.5,"m":11.38},{"t":2012.5,"m":11.54},{"t":2012.5,"m":11.72},
{"t":2012.6,"m":11.3},{"t":2012.6,"m":11.48},
{"t":2013.2,"m":11.3},{"t":2013.2,"m":11.45},{"t":2013.2,"m":11.6},
{"t":2013.3,"m":11.24},{"t":2013.3,"m":11.4},{"t":2013.3,"m":11.56},{"t":2013.3,"m":11.7},
{"t":2013.4,"m":11.28},{"t":2013.4,"m":11.44},{"t":2013.4,"m":11.6},{"t":2013.4,"m":11.78},
{"t":2013.5,"m":11.34},{"t":2013.5,"m":11.5},{"t":2013.5,"m":11.66},
{"t":2013.6,"m":11.42},{"t":2013.6,"m":11.58},{"t":2013.6,"m":11.74},
{"t":2013.7,"m":11.5},{"t":2013.7,"m":11.64},
{"t":2014.1,"m":11.55},{"t":2014.1,"m":11.72},{"t":2014.1,"m":11.9},
{"t":2014.2,"m":11.4},{"t":2014.2,"m":11.58},{"t":2014.2,"m":11.76},{"t":2014.2,"m":11.95},
{"t":2014.3,"m":11.3},{"t":2014.3,"m":11.46},{"t":2014.3,"m":11.64},{"t":2014.3,"m":11.82},{"t":2014.3,"m":11.99},
{"t":2014.4,"m":11.22},{"t":2014.4,"m":11.38},{"t":2014.4,"m":11.54},{"t":2014.4,"m":11.7},{"t":2014.4,"m":11.88},
{"t":2014.5,"m":11.14},{"t":2014.5,"m":11.3},{"t":2014.5,"m":11.46},{"t":2014.5,"m":11.62},{"t":2014.5,"m":11.8},
{"t":2014.6,"m":11.2},{"t":2014.6,"m":11.36},{"t":2014.6,"m":11.52},{"t":2014.6,"m":11.68},
{"t":2014.7,"m":11.28},{"t":2014.7,"m":11.44},
{"t":2015.0,"m":11.2},{"t":2015.0,"m":11.35},{"t":2015.0,"m":11.5},
{"t":2015.1,"m":11.12},{"t":2015.1,"m":11.28},{"t":2015.1,"m":11.42},
{"t":2015.2,"m":11.05},{"t":2015.2,"m":11.2},{"t":2015.2,"m":11.36},
{"t":2015.3,"m":10.98},{"t":2015.3,"m":11.12},{"t":2015.3,"m":11.28},
{"t":2015.4,"m":10.9},{"t":2015.4,"m":11.05},{"t":2015.4,"m":11.2},
{"t":2015.5,"m":10.85},{"t":2015.5,"m":10.98},{"t":2015.5,"m":11.12},
{"t":2015.6,"m":10.8},{"t":2015.6,"m":10.92},{"t":2015.6,"m":11.06},
{"t":2015.7,"m":10.75},{"t":2015.7,"m":10.88},{"t":2015.7,"m":11.0},
{"t":2015.8,"m":10.72},{"t":2015.8,"m":10.85},{"t":2015.8,"m":10.95},
{"t":2015.9,"m":10.55},{"t":2015.9,"m":10.7},{"t":2015.9,"m":10.85},
{"t":2016.0,"m":10.35},{"t":2016.0,"m":10.5},{"t":2016.0,"m":10.65},{"t":2016.0,"m":10.8},
{"t":2016.1,"m":10.2},{"t":2016.1,"m":10.36},{"t":2016.1,"m":10.52},{"t":2016.1,"m":10.68},{"t":2016.1,"m":10.88},
{"t":2016.2,"m":10.17},{"t":2016.2,"m":10.3},{"t":2016.2,"m":10.46},{"t":2016.2,"m":10.62},{"t":2016.2,"m":10.78},
{"t":2016.3,"m":10.0},{"t":2016.3,"m":10.25},{"t":2016.3,"m":10.4},{"t":2016.3,"m":10.56},{"t":2016.3,"m":10.72},{"t":2016.3,"m":10.9},
{"t":2016.4,"m":10.32},{"t":2016.4,"m":10.48},{"t":2016.4,"m":10.64},{"t":2016.4,"m":10.8},
{"t":2016.5,"m":10.4},{"t":2016.5,"m":10.56},{"t":2016.5,"m":10.7},{"t":2016.5,"m":10.86},
{"t":2016.6,"m":10.45},{"t":2016.6,"m":10.6},{"t":2016.6,"m":10.76},
{"t":2016.7,"m":10.55},{"t":2016.7,"m":10.7},{"t":2016.7,"m":10.86},
{"t":2016.8,"m":10.6},{"t":2016.8,"m":10.74},{"t":2016.8,"m":10.9},
{"t":2016.9,"m":10.5},{"t":2016.9,"m":10.66},{"t":2016.9,"m":10.82},{"t":2016.9,"m":10.98},
{"t":2017.0,"m":10.58},{"t":2017.0,"m":10.72},{"t":2017.0,"m":10.88},
{"t":2017.1,"m":10.62},{"t":2017.1,"m":10.78},{"t":2017.1,"m":10.94},
{"t":2017.2,"m":10.55},{"t":2017.2,"m":10.7},{"t":2017.2,"m":10.85},{"t":2017.2,"m":11.0},
{"t":2017.3,"m":10.6},{"t":2017.3,"m":10.76},{"t":2017.3,"m":10.9},
{"t":2017.4,"m":10.5},{"t":2017.4,"m":10.66},{"t":2017.4,"m":10.8},{"t":2017.4,"m":10.96},
{"t":2017.5,"m":10.45},{"t":2017.5,"m":10.6},{"t":2017.5,"m":10.75},{"t":2017.5,"m":10.92},
{"t":2017.6,"m":10.4},{"t":2017.6,"m":10.55},{"t":2017.6,"m":10.7},{"t":2017.6,"m":10.86},{"t":2017.6,"m":11.1},
{"t":2017.7,"m":10.11},{"t":2017.7,"m":10.42},{"t":2017.7,"m":10.58},{"t":2017.7,"m":10.74},{"t":2017.7,"m":10.9},
{"t":2017.8,"m":10.48},{"t":2017.8,"m":10.62},{"t":2017.8,"m":10.78},{"t":2017.8,"m":10.95},
{"t":2017.9,"m":10.52},{"t":2017.9,"m":10.68},{"t":2017.9,"m":10.84},
{"t":2018.0,"m":10.44},{"t":2018.0,"m":10.6},{"t":2018.0,"m":10.76},{"t":2018.0,"m":10.92},
{"t":2018.1,"m":10.5},{"t":2018.1,"m":10.66},{"t":2018.1,"m":10.82},{"t":2018.1,"m":11.0},
{"t":2018.2,"m":10.56},{"t":2018.2,"m":10.72},{"t":2018.2,"m":10.88},
{"t":2018.3,"m":10.6},{"t":2018.3,"m":10.76},{"t":2018.3,"m":10.92},{"t":2018.3,"m":11.03},
{"t":2018.4,"m":10.52},{"t":2018.4,"m":10.68},{"t":2018.4,"m":10.84},
{"t":2018.5,"m":10.58},{"t":2018.5,"m":10.74},{"t":2018.5,"m":10.9},
{"t":2018.6,"m":10.62},{"t":2018.6,"m":10.8},
{"t":2018.8,"m":10.6},{"t":2018.8,"m":10.76},{"t":2018.8,"m":10.9},
{"t":2018.9,"m":10.55},{"t":2018.9,"m":10.7},{"t":2018.9,"m":10.86},{"t":2018.9,"m":11.02},
{"t":2019.0,"m":10.52},{"t":2019.0,"m":10.68},{"t":2019.0,"m":10.84},{"t":2019.0,"m":11.0},
{"t":2019.1,"m":10.6},{"t":2019.1,"m":10.74},{"t":2019.1,"m":10.9},{"t":2019.1,"m":11.06},
{"t":2019.2,"m":10.56},{"t":2019.2,"m":10.72},{"t":2019.2,"m":10.88},
{"t":2019.3,"m":10.62},{"t":2019.3,"m":10.78},{"t":2019.3,"m":10.94},{"t":2019.3,"m":11.1},
{"t":2019.4,"m":10.58},{"t":2019.4,"m":10.74},{"t":2019.4,"m":10.9},{"t":2019.4,"m":11.3},
{"t":2019.5,"m":10.64},{"t":2019.5,"m":10.8},{"t":2019.5,"m":10.96},{"t":2019.5,"m":11.12},
{"t":2019.6,"m":10.6},{"t":2019.6,"m":10.76},{"t":2019.6,"m":10.92},
{"t":2019.7,"m":10.54},{"t":2019.7,"m":10.7},{"t":2019.7,"m":10.86},{"t":2019.7,"m":11.04},
{"t":2019.8,"m":10.62},{"t":2019.8,"m":10.78},{"t":2019.8,"m":10.94},{"t":2019.8,"m":11.18},
{"t":2019.9,"m":10.66},{"t":2019.9,"m":10.82},{"t":2019.9,"m":10.98},
{"t":2020.0,"m":10.7},{"t":2020.0,"m":10.86},{"t":2020.0,"m":11.02},
{"t":2020.1,"m":10.74},{"t":2020.1,"m":10.9},{"t":2020.1,"m":11.06},
{"t":2020.2,"m":10.72},{"t":2020.2,"m":10.88},{"t":2020.2,"m":11.04},
{"t":2020.3,"m":10.78},{"t":2020.3,"m":10.94},{"t":2020.3,"m":11.1},
{"t":2020.4,"m":10.7},{"t":2020.4,"m":10.86},{"t":2020.4,"m":11.02},{"t":2020.4,"m":11.18},
{"t":2020.5,"m":10.76},{"t":2020.5,"m":10.92},{"t":2020.5,"m":11.08},
{"t":2020.6,"m":10.82},{"t":2020.6,"m":10.98},{"t":2020.6,"m":11.14},{"t":2020.6,"m":11.26},
{"t":2020.7,"m":10.74},{"t":2020.7,"m":10.9},{"t":2020.7,"m":11.06},{"t":2020.7,"m":11.5},
{"t":2020.8,"m":10.8},{"t":2020.8,"m":10.96},{"t":2020.8,"m":11.12},
{"t":2020.9,"m":10.7},{"t":2020.9,"m":10.86},{"t":2020.9,"m":11.02},{"t":2020.9,"m":11.18},
{"t":2021.0,"m":10.76},{"t":2021.0,"m":10.92},{"t":2021.0,"m":11.08},
{"t":2021.1,"m":10.68},{"t":2021.1,"m":10.84},{"t":2021.1,"m":11.0},{"t":2021.1,"m":11.16},
{"t":2021.2,"m":10.74},{"t":2021.2,"m":10.9},{"t":2021.2,"m":11.06},
{"t":2021.3,"m":10.7},{"t":2021.3,"m":10.86},{"t":2021.3,"m":11.02},
{"t":2021.4,"m":10.66},{"t":2021.4,"m":10.8},{"t":2021.4,"m":10.96},{"t":2021.4,"m":11.12},
{"t":2021.5,"m":10.62},{"t":2021.5,"m":10.78},{"t":2021.5,"m":10.94},
{"t":2021.6,"m":10.55},{"t":2021.6,"m":10.7},{"t":2021.6,"m":10.86},{"t":2021.6,"m":11.02},
{"t":2021.7,"m":10.33},{"t":2021.7,"m":10.6},{"t":2021.7,"m":10.76},{"t":2021.7,"m":10.92},
{"t":2021.8,"m":10.5},{"t":2021.8,"m":10.66},{"t":2021.8,"m":10.82},{"t":2021.8,"m":10.98},
{"t":2021.9,"m":10.56},{"t":2021.9,"m":10.72},{"t":2021.9,"m":10.88},{"t":2021.9,"m":11.04},
{"t":2022.0,"m":10.5},{"t":2022.0,"m":10.64},{"t":2022.0,"m":10.8},{"t":2022.0,"m":10.96},
{"t":2022.1,"m":10.58},{"t":2022.1,"m":10.74},{"t":2022.1,"m":10.9},{"t":2022.1,"m":11.06},
{"t":2022.2,"m":10.52},{"t":2022.2,"m":10.68},{"t":2022.2,"m":10.84},{"t":2022.2,"m":11.0},
{"t":2022.3,"m":10.6},{"t":2022.3,"m":10.76},{"t":2022.3,"m":10.92},{"t":2022.3,"m":11.08},
{"t":2022.4,"m":10.55},{"t":2022.4,"m":10.7},{"t":2022.4,"m":10.86},{"t":2022.4,"m":11.02},
{"t":2022.5,"m":10.62},{"t":2022.5,"m":10.78},{"t":2022.5,"m":10.94},{"t":2022.5,"m":11.12},
{"t":2022.6,"m":10.58},{"t":2022.6,"m":10.74},{"t":2022.6,"m":10.9},{"t":2022.6,"m":11.06},
{"t":2022.7,"m":10.66},{"t":2022.7,"m":10.82},{"t":2022.7,"m":10.98},{"t":2022.7,"m":11.18},
{"t":2022.8,"m":10.64},{"t":2022.8,"m":10.8},{"t":2022.8,"m":10.96},
{"t":2022.9,"m":10.7},{"t":2022.9,"m":10.86},{"t":2022.9,"m":11.02},
{"t":2023.0,"m":10.76},{"t":2023.0,"m":10.92},{"t":2023.0,"m":11.08},
{"t":2023.1,"m":10.82},{"t":2023.1,"m":10.98},{"t":2023.1,"m":11.14},
{"t":2023.2,"m":10.9},{"t":2023.2,"m":11.06},{"t":2023.2,"m":11.22},
{"t":2023.3,"m":10.98},{"t":2023.3,"m":11.12},{"t":2023.3,"m":11.28},
{"t":2023.4,"m":11.05},{"t":2023.4,"m":11.2},{"t":2023.4,"m":11.36},
{"t":2023.5,"m":11.12},{"t":2023.5,"m":11.28},{"t":2023.5,"m":11.44},
{"t":2023.6,"m":11.2},{"t":2023.6,"m":11.36},{"t":2023.6,"m":11.52},
{"t":2023.7,"m":11.3},{"t":2023.7,"m":11.46},{"t":2023.7,"m":11.62},{"t":2023.7,"m":11.78},
{"t":2023.8,"m":11.4},{"t":2023.8,"m":11.56},{"t":2023.8,"m":11.72},{"t":2023.8,"m":11.88},{"t":2023.8,"m":11.97},
{"t":2023.9,"m":11.5},{"t":2023.9,"m":11.66},{"t":2023.9,"m":11.82},{"t":2023.9,"m":11.95},
{"t":2024.0,"m":11.6},{"t":2024.0,"m":11.75},{"t":2024.0,"m":11.9}
],
"model":[
{"t":2005.0,"m":11.78},{"t":2012.35,"m":11.78},{"t":2013.3,"m":11.55},{"t":2014.4,"m":11.45},
{"t":2015.2,"m":11.28},{"t":2016.15,"m":10.79},{"t":2016.9,"m":10.52},{"t":2017.7,"m":10.35},
{"t":2018.2,"m":10.25},{"t":2018.75,"m":10.29},{"t":2020.6,"m":10.45},{"t":2021.9,"m":10.6},
{"t":2022.6,"m":10.75},{"t":2023.3,"m":11.0},{"t":2023.8,"m":11.3},{"t":2024.02,"m":11.73},
{"t":2024.1,"m":9.0},{"t":2024.2,"m":9.0},{"t":2024.22,"m":10.58},{"t":2024.4,"m":10.58},
{"t":2024.42,"m":9.0},{"t":2024.6,"m":9.0},{"t":2024.65,"m":9.6},{"t":2024.75,"m":10.0},
{"t":2024.85,"m":10.3},{"t":2025.0,"m":10.55},{"t":2025.15,"m":10.66},{"t":2025.3,"m":10.69},
{"t":2028.3,"m":10.69},{"t":2029.2,"m":10.8},{"t":2030.0,"m":11.0}
]
},
"encoding":{
"x":{"field":"t","type":"quantitative","title":"Year",
"scale":{"domain":[2005,2031],"nice":false,"zero":false},
"axis":{"values":[2005,2010,2015,2020,2025,2030],"format":"d","grid":false,"labelFlush":false,
"domainColor":"#000","domainWidth":2,"tickColor":"#333","tickWidth":1.5,"tickSize":-10,
"labelFontSize":14,"labelColor":"#000","labelPadding":16,"titleFontSize":16,"titleFontWeight":"normal","titleColor":"#000","titlePadding":3}},
"y":{"field":"m","type":"quantitative","title":"B or V magnitude",
"scale":{"domain":[8.93,12.5],"reverse":true,"nice":false,"zero":false},
"axis":{"values":[9,10,11,12],"format":"d","grid":false,"labelFlush":false,
"domainColor":"#000","domainWidth":2,"tickColor":"#333","tickWidth":1.5,"tickSize":-10,
"labelFontSize":14,"labelColor":"#000","labelPadding":15,"titleFontSize":16,"titleFontWeight":"normal","titleColor":"#000","titlePadding":3,"titleY":160}}
},
"layer":[
{"data":{"name":"V"},"mark":{"type":"circle","size":28,"opacity":1,"color":"#E8A838"}},
{"data":{"name":"B"},"mark":{"type":"circle","size":28,"opacity":1,"color":"#2A4C7C"}},
{"data":{"name":"model"},"mark":{"type":"line","color":"#8AAFDB","strokeWidth":2.5}}
]
}
